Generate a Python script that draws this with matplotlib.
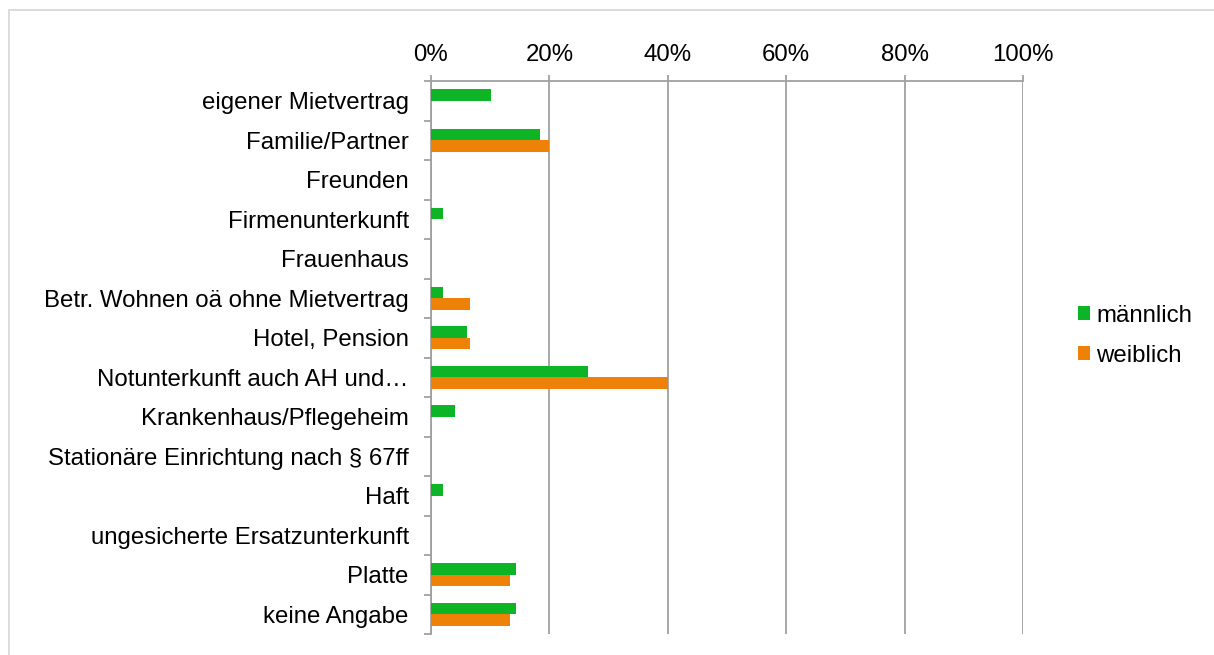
import matplotlib.pyplot as plt
import numpy as np
from matplotlib.patches import Rectangle

plt.rcParams['font.family'] = ['Liberation Sans', 'DejaVu Sans']

categories = [
    "eigener Mietvertrag",
    "Familie/Partner",
    "Freunden",
    "Firmenunterkunft",
    "Frauenhaus",
    "Betr. Wohnen oä ohne Mietvertrag",
    "Hotel, Pension",
    "Notunterkunft auch AH und…",
    "Krankenhaus/Pflegeheim",
    "Stationäre Einrichtung nach § 67ff",
    "Haft",
    "ungesicherte Ersatzunterkunft",
    "Platte",
    "keine Angabe",
]
maennlich = [10.2, 18.4, 0, 2.04, 0, 2.04, 6.12, 26.5, 4.08, 0, 2.04, 0, 14.3, 14.3]
weiblich = [0, 20.0, 0, 0, 0, 6.67, 6.67, 40.0, 0, 0, 0, 0, 13.3, 13.3]
xticks = [0, 20, 40, 60, 80, 100]
xticklabels = ["0%", "20%", "40%", "60%", "80%", "100%"]

green = "#0DB526"
orange = "#EE8208"
grid_col = "#A0A0A0"
fs = 17.3

W, H = 1214, 655
fig = plt.figure(figsize=(W / 100, H / 100), dpi=100)
# outer chart frame
fig.patches.append(Rectangle((8.5 / W, -10 / H), (W + 10) / W, (H + 10 - 9.5) / H,
                             transform=fig.transFigure, fill=False,
                             edgecolor="#D9D9D9", linewidth=1.3))

ax = fig.add_axes([431 / W, 1 - 634 / H, (1023 - 431) / W, (634 - 81) / H])

y = np.arange(len(categories))
h = 0.296
ax.barh(y - h / 2, maennlich, height=h, color=green, label="männlich", zorder=3)
ax.barh(y + h / 2, weiblich, height=h, color=orange, label="weiblich", zorder=3)

ax.set_xlim(0, 100)
ax.set_ylim(len(categories) - 0.5, -0.5)
ax.xaxis.tick_top()
ax.set_xticks(xticks)
ax.set_xticklabels(xticklabels, fontsize=fs)
ax.tick_params(axis='x', length=4.5, width=1.3, color=grid_col, pad=6)
ax.grid(axis='x', color=grid_col, linewidth=1.3, zorder=0)

ax.set_yticks(y)
ax.set_yticklabels(categories, fontsize=fs)
ax.set_yticks(np.arange(len(categories) + 1) - 0.5, minor=True)
ax.tick_params(axis='y', which='major', length=0, pad=16)
ax.tick_params(axis='y', which='minor', length=5, width=1.3, color=grid_col)

for side in ['right', 'bottom']:
    ax.spines[side].set_visible(False)
for side in ['left', 'top']:
    ax.spines[side].set_color(grid_col)
    ax.spines[side].set_linewidth(1.3)

leg = fig.legend(loc='center left', bbox_to_anchor=(1078 / W, 1 - 336 / H),
                 frameon=False, fontsize=fs, handlelength=0.52, handleheight=0.52,
                 handletextpad=0.25, labelspacing=0.75, borderpad=0, borderaxespad=0)

fig.savefig("out.png", dpi=100)
